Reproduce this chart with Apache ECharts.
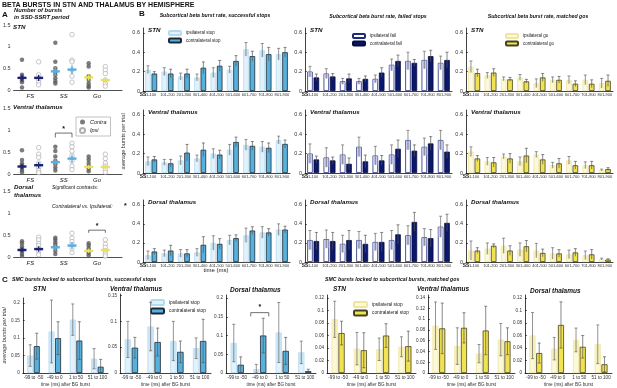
<!DOCTYPE html>
<html>
<head>
<meta charset="utf-8">
<script src="https://cdn.jsdelivr.net/npm/echarts@6/dist/echarts.min.js"></script>
<style>
  html, body { margin: 0; padding: 0; background: #fff; }
  #chart { width: 617px; height: 388px; }
</style>
</head>
<body>
<div id="chart"></div>
<script>
// ---------- data ----------
const timeBins = ['1-100', '101-200', '201-300', '301-400', '401-500', '501-600', '601-700', '701-800', '801-900'];
const lockBins = ['-99 to -50', '-49 to 0', '1 to 50', '51 to 100'];
const trialTypes = ['FS', 'SS', 'Go'];

// A: bursts per patient in SSD-SSRT period, groups FS / SS / Go
const aStnContra = [[0.7, 0.35, 0.3, 0.27, 0.22, 0.18, 0.06], [1.09, 0.65, 0.5, 0.42, 0.35, 0.27, 0.2, 0.15], [0.62, 0.54, 0.32, 0.23, 0.15, 0.09, 0.06]];
const aStnIpsi = [[0.65, 0.35, 0.25, 0.18, 0.12], [1.28, 0.69, 0.65, 0.46, 0.32, 0.18], [0.54, 0.46, 0.38, 0.23, 0.15, 0.09]];
const aStnMean = [0.28, 0.28, 0.43, 0.47, 0.29, 0.23];   // FS c, FS i, SS c, SS i, Go c, Go i
const aStnSem = [0.08, 0.07, 0.1, 0.1, 0.07, 0.06];

const aVthContra = [[0.54, 0.32, 0.24, 0.2, 0.14, 0.09, 0.04], [0.62, 0.52, 0.4, 0.3, 0.22, 0.15, 0.08], [0.4, 0.33, 0.25, 0.18, 0.12, 0.06]];
const aVthIpsi = [[0.6, 0.45, 0.38, 0.25, 0.15, 0.08, 0.03], [0.7, 0.62, 0.52, 0.42, 0.3, 0.18, 0.1], [0.45, 0.35, 0.25, 0.18, 0.1, 0.04]];
const aVthMean = [0.17, 0.2, 0.27, 0.35, 0.16, 0.16];
const aVthSem = [0.06, 0.07, 0.08, 0.09, 0.05, 0.05];

const aDthContra = [[0.36, 0.31, 0.24, 0.19, 0.13, 0.07, 0.02], [0.44, 0.39, 0.33, 0.28, 0.22, 0.14, 0.07], [0.31, 0.26, 0.2, 0.14, 0.09, 0.04]];
const aDthIpsi = [[0.45, 0.39, 0.31, 0.26, 0.19, 0.13, 0.05], [0.54, 0.43, 0.35, 0.28, 0.2, 0.1], [0.39, 0.29, 0.22, 0.14, 0.07, 0.02]];
const aDthMean = [0.16, 0.18, 0.22, 0.26, 0.14, 0.16];
const aDthSem = [0.05, 0.06, 0.07, 0.08, 0.05, 0.05];

// B: subcortical beta burst rate (mean, sem) per time bin
const bStopStnIpsi = [0.22, 0.20, 0.15, 0.14, 0.19, 0.22, 0.43, 0.42, 0.38];
const bStopStnIpsiSem = [0.04, 0.04, 0.035, 0.035, 0.05, 0.035, 0.07, 0.07, 0.06];
const bStopStnContra = [0.18, 0.18, 0.18, 0.24, 0.26, 0.31, 0.36, 0.38, 0.40];
const bStopStnContraSem = [0.02, 0.045, 0.045, 0.06, 0.055, 0.055, 0.05, 0.07, 0.05];
const bStopVthIpsi = [0.12, 0.11, 0.13, 0.15, 0.20, 0.24, 0.29, 0.27, 0.34];
const bStopVthIpsiSem = [0.045, 0.03, 0.045, 0.035, 0.05, 0.055, 0.055, 0.055, 0.04];
const bStopVthContra = [0.14, 0.10, 0.21, 0.24, 0.19, 0.32, 0.28, 0.26, 0.30];
const bStopVthContraSem = [0.03, 0.04, 0.085, 0.07, 0.045, 0.05, 0.045, 0.05, 0.04];
const bStopDthIpsi = [0.07, 0.09, 0.09, 0.10, 0.20, 0.23, 0.28, 0.31, 0.34];
const bStopDthIpsiSem = [0.045, 0.035, 0.04, 0.04, 0.075, 0.05, 0.075, 0.06, 0.06];
const bStopDthContra = [0.11, 0.12, 0.09, 0.18, 0.19, 0.25, 0.33, 0.31, 0.34];
const bStopDthContraSem = [0.03, 0.055, 0.04, 0.085, 0.055, 0.035, 0.04, 0.04, 0.035];

const bFailStnIpsi = [0.20, 0.18, 0.10, 0.10, 0.125, 0.27, 0.31, 0.32, 0.29];
const bFailStnIpsiSem = [0.055, 0.05, 0.03, 0.03, 0.04, 0.06, 0.09, 0.09, 0.07];
const bFailStnContra = [0.14, 0.15, 0.13, 0.125, 0.19, 0.31, 0.29, 0.36, 0.32];
const bFailStnContraSem = [0.035, 0.03, 0.045, 0.03, 0.05, 0.06, 0.035, 0.06, 0.08];
const bFailVthIpsi = [0.20, 0.16, 0.19, 0.27, 0.18, 0.19, 0.34, 0.27, 0.34];
const bFailVthIpsiSem = [0.1, 0.1, 0.1, 0.1, 0.095, 0.1, 0.1, 0.09, 0.1];
const bFailVthContra = [0.14, 0.13, 0.095, 0.12, 0.13, 0.25, 0.23, 0.305, 0.22];
const bFailVthContraSem = [0.035, 0.035, 0.06, 0.065, 0.05, 0.09, 0.06, 0.07, 0.07];
const bFailDthIpsi = [0.23, 0.24, 0.19, 0.23, 0.21, 0.23, 0.28, 0.26, 0.37];
const bFailDthIpsiSem = [0.1, 0.095, 0.09, 0.09, 0.09, 0.1, 0.1, 0.09, 0.11];
const bFailDthContra = [0.22, 0.22, 0.23, 0.19, 0.21, 0.29, 0.42, 0.25, 0.41];
const bFailDthContraSem = [0.09, 0.09, 0.1, 0.09, 0.1, 0.1, 0.1, 0.09, 0.09];

const bGoStnIpsi = [0.25, 0.16, 0.125, 0.14, 0.08, 0.115, 0.115, 0.115, 0.08];
const bGoStnIpsiSem = [0.06, 0.03, 0.02, 0.03, 0.045, 0.03, 0.04, 0.05, 0.05];
const bGoStnContra = [0.185, 0.19, 0.12, 0.10, 0.14, 0.115, 0.075, 0.075, 0.105];
const bGoStnContraSem = [0.04, 0.04, 0.02, 0.02, 0.04, 0.035, 0.03, 0.04, 0.06];
const bGoVthIpsi = [0.22, 0.12, 0.17, 0.12, 0.19, 0.08, 0.13, 0.08, 0.03];
const bGoVthIpsiSem = [0.05, 0.04, 0.025, 0.045, 0.03, 0.03, 0.04, 0.035, 0.01];
const bGoVthContra = [0.15, 0.11, 0.15, 0.18, 0.14, 0.10, 0.08, 0.08, 0.04];
const bGoVthContraSem = [0.03, 0.05, 0.05, 0.075, 0.05, 0.05, 0.04, 0.04, 0.015];
const bGoDthIpsi = [0.12, 0.14, 0.17, 0.13, 0.12, 0.09, 0.08, 0.07, 0.03];
const bGoDthIpsiSem = [0.1, 0.06, 0.08, 0.07, 0.075, 0.06, 0.045, 0.045, 0.01];
const bGoDthContra = [0.12, 0.17, 0.12, 0.165, 0.095, 0.09, 0.10, 0.08, 0.025];
const bGoDthContraSem = [0.03, 0.02, 0.05, 0.06, 0.04, 0.04, 0.04, 0.05, 0.008];

// C: SMC bursts locked to subcortical bursts (mean, sem)
const cStopStnIpsi = [0.05, 0.119, 0.153, 0.041];
const cStopStnIpsiSem = [0.031, 0.09, 0.045, 0.029];
const cStopStnContra = [0.077, 0.1, 0.093, 0.018];
const cStopStnContraSem = [0.037, 0.047, 0.054, 0.021];
const cStopVthIpsi = [0.065, 0.09, 0.062, 0.048];
const cStopVthIpsiSem = [0.035, 0.047, 0.038, 0.02];
const cStopVthContra = [0.049, 0.06, 0.041, 0.062];
const cStopVthContraSem = [0.02, 0.027, 0.021, 0.042];
const cStopDthIpsi = [0.08, 0.01, 0.108, 0.055];
const cStopDthIpsiSem = [0.05, 0.013, 0.08, 0.03];
const cStopDthContra = [0.022, 0.1, 0.059, 0.005];
const cStopDthContraSem = [0.021, 0.046, 0.036, 0.005];

const cGoStnIpsi = [0.086, 0.039, 0.038, 0.042];
const cGoStnIpsiSem = [0.029, 0.026, 0.018, 0.016];
const cGoStnContra = [0.064, 0.0365, 0.06, 0.043];
const cGoStnContraSem = [0.019, 0.028, 0.019, 0.024];
const cGoVthIpsi = [0.088, 0.05, 0.036, 0.062];
const cGoVthIpsiSem = [0.044, 0.034, 0.017, 0.03];
const cGoVthContra = [0.083, 0.084, 0.079, 0.059];
const cGoVthContraSem = [0.047, 0.028, 0.045, 0.025];
const cGoDthIpsi = [0.06, 0.039, 0.053, 0.046];
const cGoDthIpsiSem = [0.037, 0.018, 0.019, 0.031];
const cGoDthContra = [0.032, 0.077, 0.042, 0.014];
const cGoDthContraSem = [0.016, 0.037, 0.018, 0.012];

// ---------- styles ----------
const FONT = '"Liberation Sans", Arial, Helvetica, sans-serif';
const STOP = { ipsiFill: '#e2f1fa', ipsiLine: '#b4daf0', shade: '#c9e5f5', contraFill: '#56b1dd', contraLine: '#1d2a36' };
const FAIL = { ipsiFill: '#ffffff', ipsiLine: '#1e2a7c', shade: '#c6caee', contraFill: '#0b176b', contraLine: '#060c40' };
const GO = { ipsiFill: '#fcf8da', ipsiLine: '#efe59c', shade: '#f6efb8', contraFill: '#f1e252', contraLine: '#46421c' };
const meanColors = ['#1c2373', '#5aaee0', '#ebe05a'];

const grid = [], xAxis = [], yAxis = [], series = [], legend = [], graphic = [];

function addGrid(box, xa, ya) {
  const i = grid.length;
  grid.push(box);
  xAxis.push(Object.assign({ gridIndex: i }, xa));
  yAxis.push(Object.assign({ gridIndex: i }, ya));
  return i;
}

function label(text, x, y, size, font, extra) {
  graphic.push({
    type: 'text', x, y, silent: true,
    style: Object.assign({ text, font: (font || '') + ' ' + size + 'px ' + FONT, fill: '#111', align: 'left', verticalAlign: 'middle' }, extra || {})
  });
}

// ---------- panel A ----------
function dotPanel(box, contra, ipsi, means, sems) {
  const gi = addGrid(box, {
    type: 'value', min: 0.5, max: 7, interval: 0.5,
    axisLine: { lineStyle: { color: '#222', width: 0.8 } }, axisTick: { show: false }, splitLine: { show: false },
    axisLabel: { fontSize: 6, fontStyle: 'italic', color: '#222', margin: 3, fontFamily: FONT,
      formatter: v => (v === 1.5 ? trialTypes[0] : v === 3.5 ? trialTypes[1] : v === 5.5 ? trialTypes[2] : '') }
  }, {
    type: 'value', min: 0, max: 1.5, interval: 0.5,
    axisLine: { show: false }, axisTick: { show: false }, splitLine: { show: false },
    axisLabel: { fontSize: 5.5, color: '#333', margin: 3, fontFamily: FONT }
  });
  const cPts = [], iPts = [];
  contra.forEach((arr, g) => arr.forEach(v => cPts.push([1 + 2 * g, v])));
  ipsi.forEach((arr, g) => arr.forEach(v => iPts.push([2 + 2 * g, v])));
  series.push({ type: 'scatter', name: 'Contra', xAxisIndex: gi, yAxisIndex: gi, data: cPts, symbolSize: 4.5,
    itemStyle: { color: '#5b5b5b' } });
  series.push({ type: 'scatter', name: 'Ipsi', xAxisIndex: gi, yAxisIndex: gi, data: iPts, symbolSize: 4.5,
    itemStyle: { color: '#ffffff', borderColor: '#9c9c9c', borderWidth: 0.7 } });
  series.push({
    type: 'custom', xAxisIndex: gi, yAxisIndex: gi, z: 5, silent: true,
    data: means.map((m, k) => [k + 1, m, sems[k], Math.floor(k / 2)]),
    renderItem(params, api) {
      const p = api.coord([api.value(0), api.value(1)]);
      const t = api.coord([api.value(0), api.value(1) + api.value(2)]);
      const b = api.coord([api.value(0), api.value(1) - api.value(2)]);
      const col = meanColors[api.value(3)];
      return { type: 'group', children: [
        { type: 'line', shape: { x1: p[0] - 4.5, y1: p[1], x2: p[0] + 4.5, y2: p[1] }, style: { stroke: col, lineWidth: 2.4 } },
        { type: 'line', shape: { x1: p[0], y1: t[1], x2: p[0], y2: b[1] }, style: { stroke: col, lineWidth: 1.4 } }
      ] };
    }
  });
  return gi;
}

function bracket(gi, data, catAxis) {
  series.push({
    type: 'custom', xAxisIndex: gi, yAxisIndex: gi, z: 6, silent: true, data,
    renderItem(params, api) {
      let x1, x2;
      if (catAxis) {
        const c = api.coord([api.value(0), 0])[0];
        const band = api.size([1, 0])[0];
        x1 = c - 0.4 * band; x2 = c + 0.4 * band;
      } else {
        x1 = api.coord([api.value(0), 0])[0]; x2 = api.coord([api.value(1), 0])[0];
      }
      const yt = api.coord([0, api.value(2)])[1];
      const ye = api.coord([0, api.value(3)])[1];
      const ys = api.coord([0, api.value(4)])[1];
      return { type: 'group', children: [
        { type: 'polyline', shape: { points: [[x1, ye], [x1, yt], [x2, yt], [x2, ye]] }, style: { stroke: '#333', lineWidth: 0.7, fill: null } },
        { type: 'text', x: (x1 + x2) / 2, y: ys, style: { text: '*', font: 'bold 7px ' + FONT, fill: '#111', align: 'center', verticalAlign: 'middle' } }
      ] };
    }
  });
}

const aLeft = 12, aWidth = 110;
const aStn = dotPanel({ left: aLeft, top: 25, width: aWidth, height: 65 }, aStnContra, aStnIpsi, aStnMean, aStnSem);
const aVth = dotPanel({ left: aLeft, top: 108, width: aWidth, height: 66 }, aVthContra, aVthIpsi, aVthMean, aVthSem);
const aDth = dotPanel({ left: aLeft, top: 191, width: aWidth, height: 66 }, aDthContra, aDthIpsi, aDthMean, aDthSem);
bracket(aVth, [[3, 4, 0.93, 0.83, 1.01]], false);
bracket(aDth, [[5, 6, 0.61, 0.55, 0.71]], false);

legend.push({
  data: ['Contra', 'Ipsi'], left: 76, top: 117, orient: 'vertical', itemWidth: 5, itemHeight: 5, itemGap: 2,
  padding: [2, 4, 2, 3], borderColor: '#999', borderWidth: 0.6, selectedMode: false,
  textStyle: { fontSize: 5.5, fontStyle: 'italic', fontFamily: FONT, color: '#222' }
});

// ---------- bar panels ----------
function errorBars(gi, means, sems, side, geo, shade, color, bottomCap) {
  return {
    type: 'custom', xAxisIndex: gi, yAxisIndex: gi, z: 5, silent: true,
    data: means.map((m, i) => [i, m, sems[i]]),
    renderItem(params, api) {
      const i = api.value(0), m = api.value(1), e = api.value(2);
      const band = api.size([1, 0])[0];
      const w = band * geo.bw;
      const cx = api.coord([i, 0])[0] + side * w * (1 + geo.gap) / 2;
      const yMean = api.coord([i, m])[1];
      const yTop = api.coord([i, m + e])[1];
      const yBot = api.coord([i, Math.max(0, m - e)])[1];
      const kids = [];
      if (shade) {
        kids.push({ type: 'rect', shape: { x: cx - w / 2 + 0.7, y: yMean + 0.6, width: w - 1.4, height: Math.max(0, yBot - yMean - 0.6) }, style: { fill: shade } });
      }
      const st = { stroke: color, lineWidth: 0.7 };
      kids.push({ type: 'line', shape: { x1: cx, y1: yTop, x2: cx, y2: yBot }, style: st });
      kids.push({ type: 'line', shape: { x1: cx - 1.5, y1: yTop, x2: cx + 1.5, y2: yTop }, style: st });
      if (bottomCap) kids.push({ type: 'line', shape: { x1: cx - 1.5, y1: yBot, x2: cx + 1.5, y2: yBot }, style: st });
      return { type: 'group', children: kids };
    }
  };
}

function barPair(gi, ipsi, ipsiSem, contra, contraSem, sty, names, geo, bottomCap) {
  series.push({ type: 'bar', name: names[0], xAxisIndex: gi, yAxisIndex: gi, data: ipsi, silent: true,
    barWidth: geo.bw * 100 + '%', barGap: geo.gap * 100 + '%',
    itemStyle: { color: sty.ipsiFill, borderColor: sty.ipsiLine, borderWidth: 0.8 } });
  series.push({ type: 'bar', name: names[1], xAxisIndex: gi, yAxisIndex: gi, data: contra, silent: true,
    barWidth: geo.bw * 100 + '%', barGap: geo.gap * 100 + '%',
    itemStyle: { color: sty.contraFill, borderColor: sty.contraLine, borderWidth: 0.8 } });
  series.push(errorBars(gi, ipsi, ipsiSem, -1, geo, sty.shade, '#666', bottomCap));
  series.push(errorBars(gi, contra, contraSem, 1, geo, null, '#555', bottomCap));
}

const axisLineStyle = { lineStyle: { color: '#111', width: 0.8 } };

function bGrid(box, yExtra) {
  return addGrid(box, {
    type: 'category', data: timeBins, axisLine: axisLineStyle, axisTick: { show: false }, splitLine: { show: false },
    axisLabel: { interval: 0, fontSize: 4, color: '#333', margin: 2, fontFamily: FONT }
  }, Object.assign({
    type: 'value', min: 0, max: 0.65, interval: 0.2,
    axisLine: Object.assign({ show: true }, axisLineStyle), axisTick: { show: true, inside: true, length: 2, lineStyle: { color: '#111', width: 0.6 } },
    splitLine: { show: false },
    axisLabel: { fontSize: 5.5, color: '#333', margin: 3, fontFamily: FONT, showMaxLabel: false }
  }, yExtra || {}));
}

const bLeft = [143, 305, 466], bWidth = 147;
const bTop = [28, 110, 200], bHeight = [63, 63, 62];
const bGeo = { bw: 0.34, gap: 0.15 };
const bData = [
  [[bStopStnIpsi, bStopStnIpsiSem, bStopStnContra, bStopStnContraSem], [bStopVthIpsi, bStopVthIpsiSem, bStopVthContra, bStopVthContraSem], [bStopDthIpsi, bStopDthIpsiSem, bStopDthContra, bStopDthContraSem]],
  [[bFailStnIpsi, bFailStnIpsiSem, bFailStnContra, bFailStnContraSem], [bFailVthIpsi, bFailVthIpsiSem, bFailVthContra, bFailVthContraSem], [bFailDthIpsi, bFailDthIpsiSem, bFailDthContra, bFailDthContraSem]],
  [[bGoStnIpsi, bGoStnIpsiSem, bGoStnContra, bGoStnContraSem], [bGoVthIpsi, bGoVthIpsiSem, bGoVthContra, bGoVthContraSem], [bGoDthIpsi, bGoDthIpsiSem, bGoDthContra, bGoDthContraSem]]
];
const bStyles = [STOP, FAIL, GO];
const bNames = [['ipsilateral stop', 'contralateral stop'], ['ipsilateral fail', 'contralateral fail'], ['ipsilateral go', 'contralateral go']];
const rowTitles = ['STN', 'Ventral thalamus', 'Dorsal thalamus'];

for (let c = 0; c < 3; c++) {
  for (let r = 0; r < 3; r++) {
    const yExtra = (c === 0 && r === 1) ? { name: 'average bursts per trial', nameLocation: 'middle', nameRotate: 90, nameGap: 17,
      nameTextStyle: { fontSize: 5.5, color: '#333', fontFamily: FONT } } : {};
    const gi = bGrid({ left: bLeft[c], top: bTop[r], width: bWidth, height: bHeight[r] }, yExtra);
    const d = bData[c][r];
    barPair(gi, d[0], d[1], d[2], d[3], bStyles[c], bNames[c], bGeo, false);
    label(rowTitles[r], bLeft[c] + 5, bTop[r] + 2, 6.2, 'italic bold');
    label('SS', bLeft[c], bTop[r] + bHeight[r] + 4, 5, 'bold', { align: 'center', fill: '#222' });
  }
}
label('time (ms)', 216, 270, 6, '', { align: 'center', fill: '#222' });

legend.push({ data: bNames[0], left: 168, top: 30, orient: 'vertical', itemWidth: 12, itemHeight: 4, itemGap: 1.5, padding: 0,
  selectedMode: false, textStyle: { fontSize: 4.5, fontFamily: FONT, color: '#222' } });
legend.push({ data: bNames[1], left: 352, top: 33, orient: 'vertical', itemWidth: 12, itemHeight: 4, itemGap: 1.5, padding: 0,
  selectedMode: false, textStyle: { fontSize: 4.5, fontFamily: FONT, color: '#222' } });
legend.push({ data: bNames[2], left: 505, top: 33, orient: 'vertical', itemWidth: 12, itemHeight: 4, itemGap: 1.5, padding: 0,
  selectedMode: false, textStyle: { fontSize: 4.5, fontFamily: FONT, color: '#222' } });

// ---------- panel C ----------
function cGrid(box, max, interval, yExtra) {
  return addGrid(box, {
    type: 'category', data: lockBins, axisLine: axisLineStyle, axisTick: { show: false }, splitLine: { show: false },
    axisLabel: { interval: 0, fontSize: 4.6, color: '#333', margin: 2, fontFamily: FONT },
    name: 'time (ms) after BG burst', nameLocation: 'middle', nameGap: 9,
    nameTextStyle: { fontSize: 4.6, color: '#333', fontFamily: FONT }
  }, Object.assign({
    type: 'value', min: 0, max, interval,
    axisLine: Object.assign({ show: true }, axisLineStyle), axisTick: { show: true, inside: true, length: 2, lineStyle: { color: '#111', width: 0.6 } },
    splitLine: { show: false },
    axisLabel: { fontSize: 4.6, color: '#333', margin: 3, fontFamily: FONT, showMaxLabel: false }
  }, yExtra || {}));
}

const cGeo = { bw: 0.28, gap: 0.1 };
const cStn = cGrid({ left: 21, top: 298, width: 87, height: 77 }, 0.215, 0.05, { name: 'average bursts per trial', nameLocation: 'middle',
  nameRotate: 90, nameGap: 13, nameTextStyle: { fontSize: 5.5, fontStyle: 'italic', color: '#333', fontFamily: FONT } });
barPair(cStn, cStopStnIpsi, cStopStnIpsiSem, cStopStnContra, cStopStnContraSem, STOP, bNames[0], cGeo, true);
const cVth = cGrid({ left: 120, top: 294, width: 91, height: 80 }, 0.153, 0.05);
barPair(cVth, cStopVthIpsi, cStopVthIpsiSem, cStopVthContra, cStopVthContraSem, STOP, bNames[0], cGeo, true);
const cDth = cGrid({ left: 226, top: 295, width: 90, height: 80 }, 0.208, 0.05);
barPair(cDth, cStopDthIpsi, cStopDthIpsiSem, cStopDthContra, cStopDthContraSem, STOP, bNames[0], cGeo, true);
bracket(cDth, [[1, 0, 0.161, 0.151, 0.175]], true);

const goNames = ['ipsilateral stop ', 'contralateral stop '];
const gStn = cGrid({ left: 327, top: 295, width: 89, height: 80 }, 0.125, 0.02);
barPair(gStn, cGoStnIpsi, cGoStnIpsiSem, cGoStnContra, cGoStnContraSem, GO, goNames, cGeo, true);
const gVth = cGrid({ left: 428, top: 295, width: 87, height: 80 }, 0.145, 0.02);
barPair(gVth, cGoVthIpsi, cGoVthIpsiSem, cGoVthContra, cGoVthContraSem, GO, goNames, cGeo, true);
const gDth = cGrid({ left: 525, top: 295, width: 87, height: 80 }, 0.125, 0.02);
barPair(gDth, cGoDthIpsi, cGoDthIpsiSem, cGoDthContra, cGoDthContraSem, GO, goNames, cGeo, true);

legend.push({ data: bNames[0], left: 150, top: 299, orient: 'vertical', itemWidth: 13, itemHeight: 5, itemGap: 1.5, padding: 0,
  selectedMode: false, textStyle: { fontSize: 4.8, fontFamily: FONT, color: '#222' } });
legend.push({ data: goNames, left: 353, top: 301, orient: 'vertical', itemWidth: 13, itemHeight: 5, itemGap: 1.5, padding: 0,
  selectedMode: false, textStyle: { fontSize: 4.8, fontFamily: FONT, color: '#222' } });

// ---------- free text ----------
label('BETA BURSTS IN STN AND THALAMUS BY HEMISPHERE', 2, 5, 7, 'bold');
label('A', 2, 15, 8, 'bold');
label('Number of bursts', 14, 10, 5.8, 'italic bold');
label('in SSD-SSRT period', 14, 17, 5.8, 'italic bold');
label('STN', 13, 27, 6.2, 'italic bold');
label('Ventral thalamus', 13, 107, 6.2, 'italic bold');
label('Dorsal', 14, 187, 6.2, 'italic bold');
label('thalamus', 14, 195, 6.2, 'italic bold');
label('Significant contrasts:', 52, 188, 5, 'italic');
label('Contralateral vs. Ipsilateral:', 52, 207, 5, 'italic');
label('*', 124, 206, 7, 'bold');
label('B', 139, 14, 8, 'bold');
label('Subcortical beta burst rate, successful stops', 215, 16, 5.2, 'italic bold', { align: 'center' });
label('Subcortical beta burst rate, failed stops', 378, 17, 5.2, 'italic bold', { align: 'center' });
label('Subcortical beta burst rate, matched gos', 538, 17, 5.2, 'italic bold', { align: 'center' });
label('C', 2, 280, 8, 'bold');
label('SMC bursts locked to subcortical bursts, successful stops', 12, 280, 5.2, 'italic bold');
label('SMC bursts locked to subcortical bursts, matched gos', 325, 280, 5.2, 'italic bold');
label('STN', 33, 289, 6.5, 'italic bold');
label('Ventral thalamus', 110, 289, 6.5, 'italic bold');
label('Dorsal thalamus', 230, 290, 6.5, 'italic bold');
label('STN', 333, 289, 6.5, 'italic bold');
label('Ventral thalamus', 417, 289, 6.5, 'italic bold');
label('Dorsal thalamus', 530, 291, 6.5, 'italic bold');

const chart = echarts.init(document.getElementById('chart'), null, { renderer: 'canvas' });
chart.setOption({
  animation: false,
  backgroundColor: '#fff',
  textStyle: { fontFamily: FONT },
  grid, xAxis, yAxis, series, legend, graphic
});
</script>
</body>
</html>
